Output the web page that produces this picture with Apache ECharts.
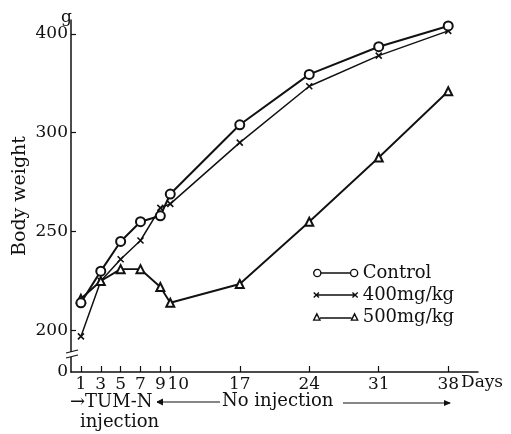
<!DOCTYPE html>
<html>
<head>
<meta charset="utf-8">
<script src="https://cdn.jsdelivr.net/npm/echarts@6/dist/echarts.min.js"></script>
<style>
  html, body { margin: 0; padding: 0; background: #fff; }
  #main { width: 511px; height: 434px; }
</style>
</head>
<body>
<div id="main"></div>
<script>
var days = [1, 3, 5, 7, 9, 10, 17, 24, 31, 38];
var dayTicks = [1, 3, 5, 7, 9, 10, 17, 24, 31, 38];
// body weight in g
var control = [214, 230, 245, 255, 258, 269, 308, 359, 387, 408];
var dose400 = [197, 225, 236, 245.5, 262, 264, 295, 347, 378, 403];
var dose500 = [216, 225, 231, 231, 222, 214, 223.5, 255, 287.5, 342];
var weightTicks = [0, 200, 250, 300, 400];

var ink = '#111';
var serif = 'DejaVu Serif';

// the figure's axis is squeezed above 300 g (300->400 takes as much room as 250->300)
function toAxis(g) {
    if (g === 0) return 179; // broken axis, 0 sits at the bottom
    return g <= 300 ? g : 300 + (g - 300) / 2;
}
function fromAxis(u) {
    if (u < 200) return 0;
    return u <= 300 ? u : 300 + (u - 300) * 2;
}
function pairs(vals) {
    return days.map(function (d, i) { return [d, toAxis(vals[i])]; });
}

var myChart = echarts.init(document.getElementById('main'));

var xMark = 'path://M0,0 L10,10 M10,0 L0,10';

var option = {
    animation: false,
    grid: { left: 71, right: 33, top: 20, bottom: 62, outerBoundsMode: 'none' },
    xAxis: {
        type: 'value',
        min: 0,
        max: 41,
        axisLine: { lineStyle: { color: ink, width: 1.5 } },
        axisTick: { inside: true, length: 6, customValues: dayTicks, lineStyle: { color: ink, width: 1.2 } },
        axisLabel: {
            customValues: dayTicks,
            margin: 4,
            color: ink,
            fontFamily: serif,
            fontSize: 17,
            formatter: function (v) { return v === 10 ? '{s|10}' : String(v); },
            rich: { s: { padding: [0, 0, 0, 16] } }
        },
        splitLine: { show: false }
    },
    yAxis: {
        type: 'value',
        min: 179,
        max: 357,
        name: 'Body weight',
        nameLocation: 'middle',
        nameGap: 41,
        nameMoveOverlap: false,
        nameTextStyle: { color: ink, fontFamily: serif, fontSize: 19 },
        axisLine: { show: true, lineStyle: { color: ink, width: 1.5 } },
        axisTick: { inside: true, length: 5, customValues: weightTicks.slice(1).map(toAxis), lineStyle: { color: ink, width: 1.2 } },
        axisLabel: {
            customValues: weightTicks.map(toAxis),
            margin: 3,
            color: ink,
            fontFamily: serif,
            fontSize: 17,
            formatter: function (v) { return String(fromAxis(v)); }
        },
        splitLine: { show: false }
    },
    legend: {
        orient: 'vertical',
        left: 308,
        top: 259,
        itemWidth: 44,
        itemHeight: 8,
        itemGap: 4,
        textStyle: { color: ink, fontFamily: serif, fontSize: 18, lineHeight: 18 },
        itemStyle: { color: 'rgba(0,0,0,0)', borderColor: ink, borderWidth: 1.4 },
        data: [
            { name: 'Control', icon: 'path://M0.5,4 A3.5,3.5 0 1 1 7.5,4 A3.5,3.5 0 1 1 0.5,4 Z M7.5,4 L36.5,4 M36.5,4 A3.5,3.5 0 1 1 43.5,4 A3.5,3.5 0 1 1 36.5,4 Z' },
            { name: '400mg/kg', icon: 'path://M1,1.5 L6,6.5 M6,1.5 L1,6.5 M4,4 L40,4 M38,1.5 L43,6.5 M43,1.5 L38,6.5' },
            { name: '500mg/kg', icon: 'path://M0.5,7 L3.5,1 L6.5,7 Z M6.5,5 L36.5,5 M36.5,7 L39.5,1 L42.5,7 Z' }
        ]
    },
    series: [{
        name: 'Control',
        type: 'line',
        data: pairs(control),
        symbol: 'emptyCircle',
        symbolSize: 9,
        lineStyle: { color: ink, width: 2 },
        itemStyle: { color: ink, borderColor: ink, borderWidth: 1.3 },
        z: 3
    }, {
        name: '400mg/kg',
        type: 'line',
        data: pairs(dose400),
        symbol: xMark,
        symbolSize: 6,
        lineStyle: { color: ink, width: 1.5 },
        itemStyle: { color: ink, borderColor: ink, borderWidth: 1.6 },
        z: 2
    }, {
        name: '500mg/kg',
        type: 'line',
        data: pairs(dose500),
        symbol: 'emptyTriangle',
        symbolSize: 8,
        lineStyle: { color: ink, width: 1.9 },
        itemStyle: { color: ink, borderColor: ink, borderWidth: 1.3 },
        z: 2
    }],
    graphic: [
        // unit above the y axis, day unit after the last tick
        { type: 'text', left: 61, top: 9, style: { text: 'g', fill: ink, font: '17px "DejaVu Serif"' } },
        { type: 'text', left: 461, top: 374, style: { text: 'Days', fill: ink, font: '17px "DejaVu Serif"' } },
        // break in the y axis between 0 and 200
        { type: 'rect', shape: { x: 66, y: 352, width: 12, height: 5 }, style: { fill: '#fff' }, z: 100 },
        { type: 'line', shape: { x1: 66, y1: 353, x2: 78, y2: 350 }, style: { stroke: ink, lineWidth: 1.2 }, z: 101 },
        { type: 'line', shape: { x1: 66, y1: 358, x2: 78, y2: 355 }, style: { stroke: ink, lineWidth: 1.2 }, z: 101 },
        // injection period notes below the x axis
        { type: 'text', left: 70, top: 393, style: { text: '→TUM-N', fill: ink, font: '18px "DejaVu Serif"' } },
        { type: 'text', left: 80, top: 413, style: { text: 'injection', fill: ink, font: '18px "DejaVu Serif"' } },
        { type: 'polyline', shape: { points: [[163, 399], [157, 402], [163, 405]] }, style: { stroke: ink, fill: ink, lineWidth: 1 } },
        { type: 'line', shape: { x1: 157, y1: 402, x2: 220, y2: 402 }, style: { stroke: ink, lineWidth: 1.2 } },
        { type: 'text', left: 222, top: 392, style: { text: 'No injection', fill: ink, font: '18px "DejaVu Serif"' } },
        { type: 'line', shape: { x1: 343, y1: 403, x2: 450, y2: 403 }, style: { stroke: ink, lineWidth: 1.2 } },
        { type: 'polygon', shape: { points: [[444, 400], [451, 403], [444, 406]] }, style: { fill: ink } }
    ]
};

myChart.setOption(option);
</script>
</body>
</html>
